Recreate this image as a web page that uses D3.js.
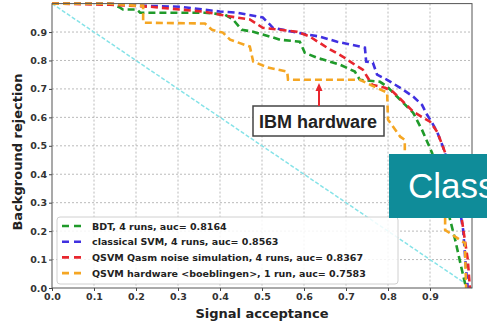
<!DOCTYPE html>
<meta charset="utf-8">
<script src="https://d3js.org/d3.v7.min.js"></script>
<style>
  body { margin: 0; background: #fff; }
  text { font-family: "DejaVu Sans", sans-serif; }
</style>
<body>
<div id="chart"></div>
<script>
// ROC curves: [signal acceptance, background rejection]
var bdt = [[0,1],[0.138,1.0],[0.162,0.986],[0.169,0.979],[0.202,0.979],[0.210,0.968],[0.364,0.968],
  [0.412,0.961],[0.431,0.944],[0.452,0.908],[0.479,0.901],[0.519,0.884],[0.543,0.873],[0.590,0.866],
  [0.602,0.827],[0.631,0.810],[0.686,0.785],[0.721,0.761],[0.733,0.732],[0.781,0.725],[0.798,0.708],
  [0.829,0.662],[0.860,0.616],[0.881,0.556],[0.905,0.475],[0.936,0.310],[0.960,0.169],[0.976,0.063],[0.986,0]];
var svm = [[0,1],[0.138,1.0],[0.202,0.993],[0.305,0.989],[0.400,0.972],[0.440,0.968],[0.502,0.951],
  [0.519,0.926],[0.526,0.915],[0.607,0.891],[0.638,0.884],[0.679,0.866],[0.733,0.849],[0.745,0.845],
  [0.748,0.796],[0.764,0.792],[0.774,0.750],[0.798,0.732],[0.829,0.704],[0.860,0.673],[0.881,0.644],
  [0.893,0.609],[0.905,0.581],[0.917,0.549],[0.931,0.496],[0.948,0.415],[0.967,0.310],[0.979,0.204],
  [0.986,0.063],[0.990,0]];
var qasm = [[0,1],[0.138,0.996],[0.233,0.989],[0.305,0.979],[0.360,0.972],[0.400,0.961],[0.440,0.951],
  [0.471,0.944],[0.502,0.915],[0.543,0.908],[0.583,0.901],[0.614,0.884],[0.655,0.845],[0.693,0.813],
  [0.721,0.785],[0.740,0.768],[0.762,0.715],[0.793,0.704],[0.812,0.690],[0.836,0.655],[0.860,0.620],
  [0.883,0.599],[0.900,0.585],[0.917,0.549],[0.931,0.496],[0.960,0.380],[0.976,0.239],[0.990,0.099],[0.995,0]];
var hardware = [[0,1],[0.138,1.0],[0.198,0.993],[0.217,0.993],[0.217,0.933],[0.364,0.930],[0.381,0.908],
  [0.407,0.898],[0.424,0.873],[0.471,0.849],[0.479,0.796],[0.514,0.775],[0.560,0.761],[0.562,0.732],
  [0.733,0.732],[0.757,0.715],[0.798,0.687],[0.800,0.592],[0.829,0.532],[0.840,0.521],[0.840,0.451],
  [0.900,0.360],[0.936,0.250],[0.936,0.204],[0.983,0.158],[0.986,0]];
var diagonal = [[0,1],[1,0]];

var labels = ["BDT, 4 runs, auc= 0.8164",
  "classical SVM, 4 runs, auc= 0.8563",
  "QSVM Qasm noise simulation, 4 runs, auc= 0.8367",
  "QSVM hardware <boeblingen>, 1 run, auc= 0.7583"];
var colors = ["#1f9a2a", "#4030e0", "#e8262e", "#f5a623"];
var ticks = [0, 0.1, 0.2, 0.3, 0.4, 0.5, 0.6, 0.7, 0.8, 0.9];

var W = 487, H = 325;
var margin = {top: 3.6, right: 15, bottom: 37, left: 52},
    width = 472 - margin.left,
    height = 288 - margin.top;

var root = d3.select("#chart").append("svg")
  .attr("width", W).attr("height", H);
var svg = root.append("g")
  .attr("transform", "translate(" + margin.left + "," + margin.top + ")");

var x = d3.scaleLinear().domain([0, 1]).range([0, width]);
var y = d3.scaleLinear().domain([0, 1]).range([height, 0]);

// grid
svg.append("g").selectAll("line").data(ticks.slice(1)).enter().append("line")
  .attr("x1", function(d) { return x(d); }).attr("x2", function(d) { return x(d); })
  .attr("y1", 0).attr("y2", height)
  .attr("stroke", "#aaa").attr("stroke-dasharray", "2,2").attr("stroke-width", 0.8);
svg.append("g").selectAll("line").data(ticks.slice(1)).enter().append("line")
  .attr("y1", function(d) { return y(d); }).attr("y2", function(d) { return y(d); })
  .attr("x1", 0).attr("x2", width)
  .attr("stroke", "#aaa").attr("stroke-dasharray", "2,2").attr("stroke-width", 0.8);

// axes
var xAxis = svg.append("g")
  .attr("transform", "translate(0," + height + ")")
  .call(d3.axisBottom(x).tickValues(ticks).tickFormat(d3.format(".1f")).tickSize(3).tickPadding(2));
var yAxis = svg.append("g")
  .call(d3.axisLeft(y).tickValues(ticks).tickFormat(d3.format(".1f")).tickSize(3).tickPadding(2));
[xAxis, yAxis].forEach(function(a) {
  a.select(".domain").remove();
  a.selectAll("line").attr("stroke", "#444");
  a.selectAll("text").attr("fill", "#333").style("font-size", "9.5px").style("font-weight", "bold")
    .style("font-family", "DejaVu Sans");
});

var line = d3.line()
  .x(function(d) { return x(d[0]); })
  .y(function(d) { return y(d[1]); });

svg.append("path").datum(diagonal)
  .attr("fill", "none").attr("stroke", "#86e3e8").attr("stroke-width", 1.5)
  .attr("stroke-dasharray", "4,2").attr("d", line);

[bdt, svm, qasm, hardware].forEach(function(s, i) {
  svg.append("path").datum(s)
    .attr("fill", "none").attr("stroke", colors[i]).attr("stroke-width", 2.6)
    .attr("stroke-dasharray", "7,4").attr("d", line);
});

// frame
svg.append("rect").attr("width", width).attr("height", height)
  .attr("fill", "none").attr("stroke", "#555").attr("stroke-width", 1);

// legend
var lg = svg.append("g").attr("transform", "translate(5," + (217 - margin.top) + ")");
lg.append("rect").attr("width", 341).attr("height", 67).attr("rx", 3)
  .attr("fill", "#fff").attr("fill-opacity", 0.85).attr("stroke", "#d0d0d0");
labels.forEach(function(l, i) {
  var yy = 9 + i * 15.7;
  lg.append("line").attr("x1", 5).attr("x2", 25).attr("y1", yy).attr("y2", yy)
    .attr("stroke", colors[i]).attr("stroke-width", 2.6).attr("stroke-dasharray", "7,5");
  lg.append("text").attr("x", 35).attr("y", yy + 3.5)
    .style("font-size", "9.5px").style("font-weight", "bold").attr("fill", "#222").text(l);
});

// annotation
svg.append("rect").attr("x", 253 - margin.left).attr("y", 106 - margin.top)
  .attr("width", 131).attr("height", 30)
  .attr("fill", "#fff").attr("stroke", "#444").attr("stroke-width", 1.5);
svg.append("text").attr("x", 318 - margin.left).attr("y", 128 - margin.top)
  .attr("text-anchor", "middle").attr("fill", "#222")
  .style("font-family", "Liberation Sans, Arial, sans-serif")
  .style("font-size", "18px").style("font-weight", "bold").text("IBM hardware");
svg.append("line").attr("x1", 319 - margin.left).attr("x2", 319 - margin.left)
  .attr("y1", 106 - margin.top).attr("y2", 90 - margin.top)
  .attr("stroke", "#e8262e").attr("stroke-width", 2);
svg.append("path")
  .attr("d", "M" + (319 - margin.left) + "," + (83 - margin.top) + " l-3.5,8 l7,0 z")
  .attr("fill", "#e8262e");

// axis labels
root.append("text").attr("x", 262).attr("y", 318).attr("text-anchor", "middle")
  .style("font-size", "13px").style("font-weight", "bold").attr("fill", "#222").text("Signal acceptance");
root.append("text").attr("transform", "translate(22,152) rotate(-90)").attr("text-anchor", "middle")
  .style("font-size", "13px").style("font-weight", "bold").attr("fill", "#222").text("Background rejection");

// slide overlay box (runs off the right edge, as in the source)
root.append("rect").attr("x", 389).attr("y", 154).attr("width", 100).attr("height", 64)
  .attr("fill", "#0f8c99");
root.append("text").attr("x", 408).attr("y", 198)
  .style("font-family", "Liberation Sans, Arial, sans-serif").style("font-size", "35px")
  .attr("fill", "#fff").text("Class");
</script>
</body>
